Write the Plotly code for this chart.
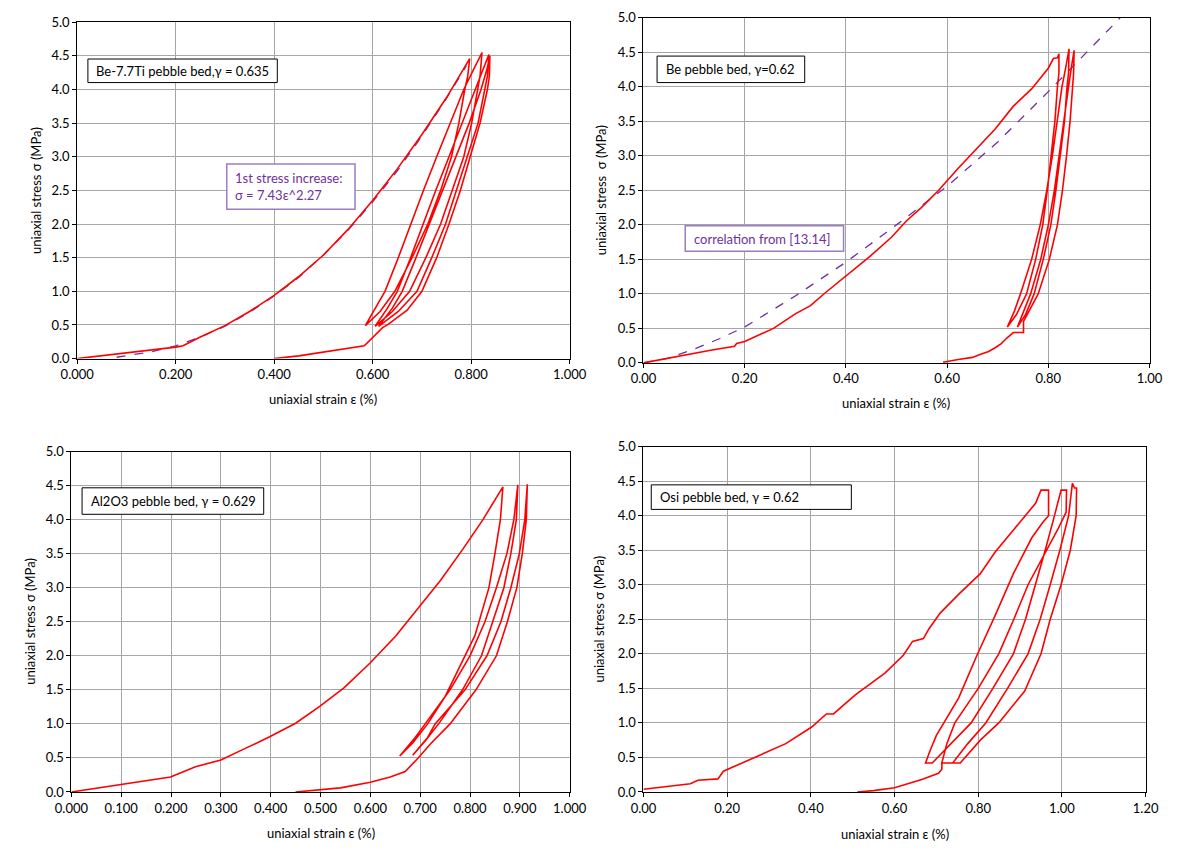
import plotly.graph_objects as go

# ---------------- data ----------------
# Panel 1: Be-7.7Ti
p1_load_x = [0.000, 0.050, 0.100, 0.150, 0.200, 0.215, 0.250, 0.300, 0.350, 0.400, 0.450,
             0.500, 0.550, 0.600, 0.650, 0.700, 0.750, 0.797]
p1_load_y = [0.00, 0.04, 0.08, 0.12, 0.17, 0.19, 0.32, 0.49, 0.70, 0.94, 1.22,
             1.54, 1.92, 2.35, 2.82, 3.33, 3.88, 4.46]
p1_cyc_x = [0.797, 0.793, 0.787, 0.775, 0.760, 0.738, 0.712, 0.680, 0.645, 0.615, 0.585,
            0.605, 0.625, 0.652, 0.677, 0.703, 0.730, 0.757, 0.785, 0.805, 0.822,
            0.818, 0.813, 0.801, 0.785, 0.762, 0.738, 0.708, 0.675, 0.640, 0.605,
            0.630, 0.650, 0.677, 0.702, 0.728, 0.755, 0.782, 0.808, 0.825, 0.836,
            0.833, 0.828, 0.814, 0.792, 0.770, 0.748, 0.720, 0.690, 0.652, 0.612,
            0.640, 0.660, 0.688, 0.715, 0.742, 0.770, 0.796, 0.820, 0.832, 0.838,
            0.837, 0.833, 0.818, 0.798, 0.778, 0.755, 0.730, 0.700, 0.670, 0.630, 0.620,
            0.583, 0.540, 0.500, 0.450, 0.400]
p1_cyc_y = [4.46, 4.20, 4.00, 3.50, 3.00, 2.50, 2.00, 1.50, 1.00, 0.70, 0.49,
            0.75, 1.00, 1.50, 2.00, 2.50, 3.00, 3.50, 4.00, 4.30, 4.55,
            4.20, 4.00, 3.50, 3.00, 2.50, 2.00, 1.50, 1.00, 0.70, 0.48,
            0.75, 1.00, 1.50, 2.00, 2.50, 3.00, 3.50, 4.00, 4.30, 4.52,
            4.20, 4.00, 3.50, 3.00, 2.50, 2.00, 1.50, 1.00, 0.70, 0.48,
            0.75, 1.00, 1.50, 2.00, 2.50, 3.00, 3.50, 4.00, 4.30, 4.50,
            4.20, 4.00, 3.50, 3.00, 2.50, 2.00, 1.50, 1.00, 0.72, 0.50, 0.46,
            0.19, 0.14, 0.09, 0.04, 0.00]
p1_fit_x = [0.08, 0.10, 0.15, 0.20, 0.25, 0.30, 0.35, 0.40, 0.45, 0.50, 0.55, 0.60,
            0.65, 0.70, 0.75, 0.79]
p1_fit_y = [0.02, 0.04, 0.10, 0.19, 0.32, 0.48, 0.69, 0.93, 1.21, 1.54, 1.91, 2.33,
            2.79, 3.31, 3.87, 4.35]

# Panel 2: Be
p2_load_x = [0.000, 0.050, 0.090, 0.130, 0.180, 0.184, 0.200, 0.257, 0.300, 0.330, 0.360,
             0.400, 0.447, 0.490, 0.520, 0.549, 0.582, 0.622, 0.658, 0.695, 0.731, 0.767,
             0.800, 0.810, 0.818, 0.821]
p2_load_y = [0.00, 0.07, 0.13, 0.18, 0.24, 0.28, 0.31, 0.50, 0.71, 0.83, 1.02,
             1.26, 1.54, 1.82, 2.06, 2.25, 2.49, 2.82, 3.10, 3.39, 3.72, 3.97,
             4.27, 4.41, 4.42, 4.48]
p2_cyc_x = [0.821, 0.821, 0.818, 0.813, 0.806, 0.798, 0.789, 0.775, 0.757, 0.737, 0.719,
            0.733, 0.745, 0.767, 0.784, 0.797, 0.808, 0.818, 0.827, 0.835, 0.841,
            0.840, 0.837, 0.832, 0.824, 0.815, 0.805, 0.790, 0.772, 0.755, 0.739,
            0.752, 0.765, 0.785, 0.800, 0.812, 0.821, 0.830, 0.840, 0.846, 0.851,
            0.850, 0.848, 0.843, 0.836, 0.828, 0.818, 0.802, 0.780, 0.762, 0.751, 0.751,
            0.731, 0.718, 0.707, 0.695, 0.682, 0.665, 0.650, 0.622, 0.592]
p2_cyc_y = [4.48, 4.20, 4.00, 3.50, 3.00, 2.50, 2.00, 1.50, 1.00, 0.70, 0.52,
            0.75, 1.00, 1.50, 2.00, 2.50, 3.00, 3.50, 4.00, 4.30, 4.55,
            4.20, 4.00, 3.50, 3.00, 2.50, 2.00, 1.50, 1.00, 0.70, 0.52,
            0.75, 1.00, 1.50, 2.00, 2.50, 3.00, 3.50, 4.00, 4.30, 4.53,
            4.20, 4.00, 3.50, 3.00, 2.50, 2.00, 1.50, 1.00, 0.75, 0.60, 0.44,
            0.44, 0.36, 0.28, 0.22, 0.166, 0.12, 0.08, 0.05, 0.01]
p2_fit_x = [0.000, 0.050, 0.100, 0.150, 0.200, 0.300, 0.400, 0.500, 0.600, 0.700, 0.800,
            0.900, 0.942]
p2_fit_y = [0.00, 0.07, 0.20, 0.35, 0.52, 0.97, 1.46, 2.00, 2.56, 3.20, 3.93,
            4.68, 5.00]

# Panel 3: Al2O3
p3_load_x = [0.000, 0.099, 0.199, 0.249, 0.300, 0.349, 0.398, 0.450, 0.499, 0.547, 0.599,
             0.651, 0.700, 0.741, 0.786, 0.826, 0.866]
p3_load_y = [0.00, 0.11, 0.22, 0.37, 0.47, 0.64, 0.81, 1.01, 1.26, 1.53, 1.89,
             2.29, 2.73, 3.11, 3.57, 4.00, 4.48]
p3_cyc_x = [0.866, 0.861, 0.850, 0.838, 0.810, 0.790, 0.750, 0.715, 0.685, 0.659,
            0.690, 0.710, 0.760, 0.800, 0.830, 0.853, 0.874, 0.888, 0.896,
            0.893, 0.882, 0.868, 0.845, 0.823, 0.785, 0.737, 0.710, 0.685,
            0.715, 0.730, 0.790, 0.834, 0.862, 0.882, 0.899, 0.910, 0.915,
            0.913, 0.905, 0.894, 0.875, 0.853, 0.812, 0.760, 0.720, 0.696, 0.670,
            0.640, 0.600, 0.540, 0.500, 0.450]
p3_cyc_y = [4.48, 4.00, 3.50, 3.00, 2.30, 2.00, 1.40, 1.00, 0.72, 0.53,
            0.80, 1.00, 1.50, 2.00, 2.50, 3.00, 3.50, 4.00, 4.51,
            4.00, 3.50, 3.00, 2.50, 2.00, 1.50, 1.00, 0.75, 0.54,
            0.80, 1.00, 1.50, 2.00, 2.50, 3.00, 3.50, 4.00, 4.52,
            4.00, 3.50, 3.00, 2.50, 2.00, 1.50, 1.00, 0.70, 0.50, 0.30,
            0.22, 0.144, 0.06, 0.03, 0.00]

# Panel 4: Osi
p4_load_x = [0.000, 0.112, 0.130, 0.178, 0.191, 0.261, 0.314, 0.340, 0.402, 0.437, 0.454,
             0.507, 0.577, 0.621, 0.643, 0.669, 0.682, 0.709, 0.753, 0.805, 0.840, 0.875,
             0.911, 0.937, 0.950, 0.968]
p4_load_y = [0.04, 0.12, 0.17, 0.19, 0.30, 0.49, 0.63, 0.70, 0.94, 1.13, 1.13,
             1.41, 1.72, 1.98, 2.18, 2.22, 2.36, 2.59, 2.86, 3.16, 3.47, 3.73,
             3.99, 4.18, 4.37, 4.37]
p4_cyc_x = [0.968, 0.968, 0.954, 0.928, 0.884, 0.840, 0.797, 0.753, 0.700, 0.685, 0.674,
            0.690, 0.735, 0.783, 0.835, 0.884, 0.913, 0.937, 0.960, 0.980, 0.998, 1.011,
            1.010, 0.990, 0.955, 0.919, 0.885, 0.849, 0.800, 0.744, 0.725, 0.713,
            0.739, 0.775, 0.818, 0.870, 0.919, 0.948, 0.972, 0.995, 1.016, 1.025, 1.030, 1.035,
            1.034, 1.020, 0.998, 0.972, 0.950, 0.911, 0.849, 0.805, 0.757, 0.713, 0.713,
            0.705, 0.665, 0.600, 0.550, 0.511]
p4_cyc_y = [4.37, 4.00, 3.90, 3.68, 3.16, 2.55, 1.98, 1.36, 0.82, 0.60, 0.42,
            0.42, 0.70, 1.00, 1.50, 2.00, 2.50, 3.00, 3.50, 3.95, 4.37, 4.37,
            4.05, 3.80, 3.40, 3.00, 2.50, 2.00, 1.50, 1.00, 0.70, 0.42,
            0.42, 0.70, 1.00, 1.50, 2.00, 2.50, 3.00, 3.50, 4.00, 4.47, 4.40, 4.40,
            4.00, 3.50, 3.00, 2.50, 2.00, 1.46, 1.00, 0.75, 0.42, 0.42, 0.33,
            0.27, 0.18, 0.06, 0.02, 0.00]

# text
x_title = "uniaxial strain ε (%)"
y_titles = ["uniaxial stress σ (MPa)", "uniaxial stress  σ (MPa)",
            "uniaxial stress σ (MPa)", "uniaxial stress σ (MPa)"]
labels = ["Be-7.7Ti pebble bed,γ = 0.635", "Be pebble bed, γ=0.62",
          "Al2O3 pebble bed, γ = 0.629", "Osi pebble bed, γ = 0.62"]
fit_labels = ["1st stress increase:<br>σ = 7.43ε^2.27", "correlation from [13.14]"]

# ---------------- layout geometry (pixels) ----------------
W, H = 1184, 851
def fx(p): return p / W
def fy(p): return 1 - p / H

RED = "#FF0000"
PURPLE = "#7030A0"
PURPLE_BORDER = "#9d7cc6"
FONT = "Lato"

panels = [
    dict(px=(62, 569), py=(14.5, 357.3), xmax=1.0, dt=0.2, fmt=".3f",
         xt=(315.5, 398), yt=(19, 186),
         box=(73, 268, 52, 76), tx=(79.5, 64)),
    dict(px=(645, 1166), py=(10, 361.7), xmax=1.0, dt=0.2, fmt=".2f",
         xt=(905.5, 403), yt=(601, 186),
         box=(659, 811, 49, 76), tx=(666.5, 62.5)),
    dict(px=(56, 569), py=(452, 799), xmax=1.0, dt=0.1, fmt=".3f",
         xt=(312.5, 841), yt=(13.5, 625.5),
         box=(67, 254, 489, 516), tx=(74, 502.5)),
    dict(px=(645, 1162), py=(447, 799), xmax=1.2, dt=0.2, fmt=".2f",
         xt=(903.5, 842), yt=(599.5, 623),
         box=(653, 859, 486, 511), tx=(660, 498.5)),
]

series = [
    (p1_load_x, p1_load_y, p1_cyc_x, p1_cyc_y),
    (p2_load_x, p2_load_y, p2_cyc_x, p2_cyc_y),
    (p3_load_x, p3_load_y, p3_cyc_x, p3_cyc_y),
    (p4_load_x, p4_load_y, p4_cyc_x, p4_cyc_y),
]
fits = {0: (p1_fit_x, p1_fit_y), 1: (p2_fit_x, p2_fit_y)}

fig = go.Figure()
layout = dict(width=W, height=H, margin=dict(l=0, r=0, t=0, b=0),
              paper_bgcolor="white", plot_bgcolor="white", showlegend=False,
              font=dict(family=FONT, size=13, color="black"))
shapes, annotations = [], []

for i, p in enumerate(panels):
    n = "" if i == 0 else str(i + 1)
    xa, ya = "x" + n, "y" + n
    lx, ly, cx, cy = series[i]
    if i in fits:
        fx_, fy_ = fits[i]
        fig.add_trace(go.Scatter(x=fx_, y=fy_, mode="lines", xaxis=xa, yaxis=ya,
                                 line=dict(color=PURPLE, width=1.3, dash="dash")))
    fig.add_trace(go.Scatter(x=lx + cx, y=ly + cy, mode="lines", xaxis=xa, yaxis=ya,
                             line=dict(color=RED, width=1.6)))
    common = dict(showgrid=True, gridcolor="#a6a6a6", gridwidth=1, zeroline=False,
                  showline=True, linecolor="black", linewidth=1, mirror=True,
                  ticks="outside", ticklen=4, tickcolor="black",
                  tickfont=dict(family=FONT, size=13, color="black"))
    layout["xaxis" + n] = dict(common, domain=[fx(p["px"][0]), fx(p["px"][1])],
                               range=[0, p["xmax"]], dtick=p["dt"], tick0=0,
                               tickformat=p["fmt"], anchor=ya)
    layout["yaxis" + n] = dict(common, domain=[fy(p["py"][1]), fy(p["py"][0])],
                               range=[0, 5], dtick=0.5, tick0=0,
                               tickformat=".1f", anchor=xa)
    # axis titles
    annotations.append(dict(xref="paper", yref="paper", x=fx(p["xt"][0]), y=fy(p["xt"][1]),
                            text=x_title, showarrow=False, xanchor="center", yanchor="middle",
                            font=dict(family=FONT, size=13)))
    annotations.append(dict(xref="paper", yref="paper", x=fx(p["yt"][0]), y=fy(p["yt"][1]),
                            text=y_titles[i], showarrow=False, textangle=-90,
                            xanchor="center", yanchor="middle",
                            font=dict(family=FONT, size=13)))
    # label box
    b = p["box"]
    shapes.append(dict(type="rect", xref="paper", yref="paper",
                       x0=fx(b[0]), x1=fx(b[1]), y0=fy(b[3]), y1=fy(b[2]),
                       line=dict(color="black", width=1), fillcolor="white", layer="above"))
    annotations.append(dict(xref="paper", yref="paper", x=fx(p["tx"][0]), y=fy(p["tx"][1]),
                            text=labels[i], showarrow=False, xanchor="left", yanchor="middle",
                            font=dict(family=FONT, size=13, color="black")))

# fit label boxes
shapes.append(dict(type="rect", xref="paper", yref="paper",
                   x0=fx(216), x1=fx(348), y0=fy(205), y1=fy(159),
                   line=dict(color=PURPLE_BORDER, width=1.5), fillcolor="white", layer="above"))
annotations.append(dict(xref="paper", yref="paper", x=fx(222.5), y=fy(182),
                        text=fit_labels[0], showarrow=False, xanchor="left", yanchor="middle",
                        align="left", font=dict(family=FONT, size=13, color=PURPLE)))
shapes.append(dict(type="rect", xref="paper", yref="paper",
                   x0=fx(688), x1=fx(851), y0=fy(248), y1=fy(222),
                   line=dict(color=PURPLE_BORDER, width=1.5), fillcolor="white", layer="above"))
annotations.append(dict(xref="paper", yref="paper", x=fx(695), y=fy(235),
                        text=fit_labels[1], showarrow=False, xanchor="left", yanchor="middle",
                        font=dict(family=FONT, size=13, color=PURPLE)))

layout["shapes"] = shapes
layout["annotations"] = annotations
fig.update_layout(**layout)
fig.write_html("out.html")
